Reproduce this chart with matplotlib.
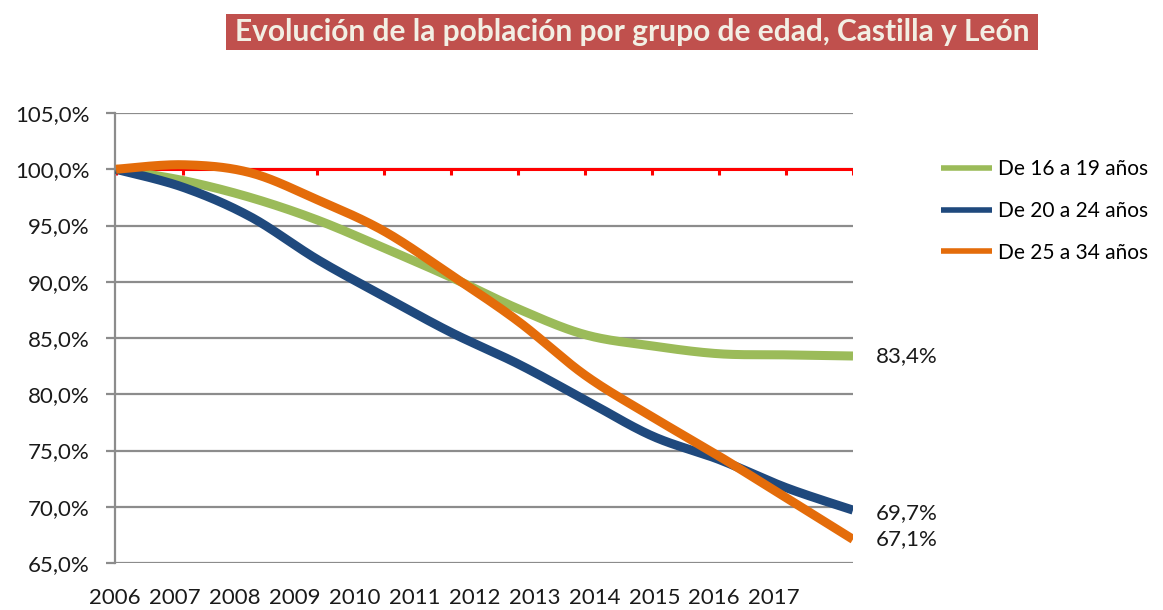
import numpy as np
import matplotlib
matplotlib.use("Agg")
import matplotlib.pyplot as plt
from matplotlib.patches import Rectangle

years = ["2006", "2007", "2008", "2009", "2010", "2011",
         "2012", "2013", "2014", "2015", "2016", "2017"]
series_names = ["De 16 a 19 años", "De 20 a 24 años", "De 25 a 34 años"]
g16_19 = [100.0, 99.0, 97.5, 95.5, 93.0, 90.4, 87.6, 85.3, 84.3, 83.6, 83.5, 83.4]
g20_24 = [100.0, 98.4, 95.8, 92.0, 88.7, 85.5, 82.7, 79.5, 76.3, 74.2, 71.7, 69.7]
g25_34 = [100.0, 100.4, 99.7, 97.3, 94.5, 90.6, 86.5, 81.7, 78.0, 74.5, 70.8, 67.1]
reference = [100.0] * 12
end_labels = ["83,4%", "69,7%", "67,1%"]
yticks = [65, 70, 75, 80, 85, 90, 95, 100, 105]
colors = ["#9BBB59", "#1F497D", "#E46C0A"]

FONT = "Lato"
FS = 16
W, H = 1163, 610
fig = plt.figure(figsize=(W / 100, H / 100), dpi=100)
ax = fig.add_axes([115 / W, 1 - 563 / H, (853 - 115) / W, (563 - 113) / H])


def smooth(y, n=30):
    y = np.asarray(y, float)
    x = np.arange(len(y), dtype=float)
    P = np.column_stack([x, y])
    Pp = np.vstack([P[0], P, P[-1]])
    out = []
    for i in range(len(P) - 1):
        p0, p1, p2, p3 = Pp[i], Pp[i + 1], Pp[i + 2], Pp[i + 3]
        b1 = p1 + (p2 - p0) / 6
        b2 = p2 - (p3 - p1) / 6
        t = np.linspace(0, 1, n)[:, None]
        seg = ((1 - t) ** 3) * p1 + 3 * ((1 - t) ** 2) * t * b1 + 3 * (1 - t) * t ** 2 * b2 + t ** 3 * p2
        out.append(seg if i == 0 else seg[1:])
    s = np.vstack(out)
    return s[:, 0], s[:, 1]


xs = np.arange(len(years))
# reference red line with tick marks
ax.plot(xs, reference, color="#FF0000", lw=2.2, zorder=2, solid_capstyle="butt")
ax.vlines(xs, 99.45, 100, color="#FF0000", lw=2.2, zorder=2)

for vals, c, name in zip([g16_19, g20_24, g25_34], colors, series_names):
    sx, sy = smooth(vals)
    ax.plot(sx, sy, color=c, lw=6.5, solid_capstyle="butt", zorder=3, label=name)

ax.set_xlim(0, len(years) - 1)
ax.set_ylim(65, 105)
ax.set_yticks(yticks)
ax.set_yticklabels([f"{v:.1f}%".replace(".", ",") for v in yticks],
                   fontsize=FS, family=FONT, color="#1a1a1a")
ax.grid(axis="y", color="#8C8C8C", lw=1.6, zorder=1)
ax.tick_params(axis="y", length=6.5, width=1.6, color="#8C8C8C", pad=12)

px_per_unit = (853 - 115) / (len(years) - 1)
label_pos = [(114 + 60 * i - 115) / px_per_unit for i in range(len(years))]
ax.set_xticks(label_pos)
ax.set_xticklabels(years, fontsize=FS, family=FONT, color="#1a1a1a")
ax.tick_params(axis="x", length=0, pad=18)

for s in ["top", "right", "bottom"]:
    ax.spines[s].set_visible(False)
ax.spines["left"].set_color("#8C8C8C")
ax.spines["left"].set_linewidth(1.6)

# end labels
for vals, lab, dy in zip([g16_19, g20_24, g25_34], end_labels, [0, -0.3, 0.0]):
    ax.annotate(lab, xy=(len(years) - 1, vals[-1] + dy), xytext=(16.5, 0),
                textcoords="offset points", fontsize=FS, family=FONT,
                va="center", ha="left", color="#1a1a1a", annotation_clip=False)

leg = fig.legend(loc="upper left", bbox_to_anchor=(941 / W, 1 - 159 / H),
                 frameon=False, prop={"family": FONT, "size": 15},
                 handlelength=2.45, handletextpad=0.3, labelspacing=1.05,
                 borderpad=0, borderaxespad=0)
for l in leg.get_lines():
    l.set_linewidth(4)

# title box
fig.patches.append(Rectangle((226 / W, 1 - 50 / H), (1038 - 226) / W, 36 / H,
                             transform=fig.transFigure, facecolor="#C0504D",
                             edgecolor="none"))
fig.text(632 / W, 1 - 32 / H, "Evolución de la población por grupo de edad, Castilla y León",
         ha="center", va="center", fontsize=21.5, family=FONT, weight="bold",
         color="#F2EFE4")

fig.savefig("out.png", dpi=100)
